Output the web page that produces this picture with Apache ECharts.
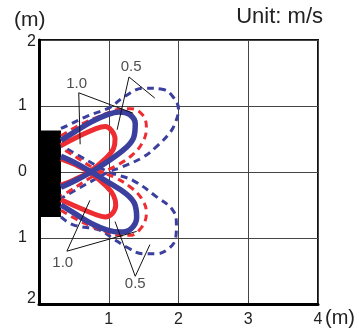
<!DOCTYPE html>
<html>
<head>
<meta charset="utf-8">
<script src="https://cdn.jsdelivr.net/npm/echarts@6/dist/echarts.min.js"></script>
<style>
html, body { margin: 0; padding: 0; background: #fff; }
#chart { width: 359px; height: 330px; }
</style>
</head>
<body>
<div id="chart"></div>
<script>
// axis ticks
var xTicks = [0, 1, 2, 3, 4]
var yTicks = [-2, -1, 0, 1, 2]

// outlet (black block), x and y extent in metres
var deviceX = [0, 0.315]
var deviceY = [-0.68, 0.63]

// 1.0 m/s contours
var blueUpper = [[0.315,0.48],[0.5,0.6],[0.75,0.76],[0.98,0.87],[1.15,0.91],[1.3,0.87],[1.38,0.73],[1.36,0.53],[1.25,0.37],[1.0,0.17],[0.75,0.0],[0.5,-0.14],[0.315,-0.23]]
var blueLower = [[0.315,-0.5],[0.5,-0.62],[0.75,-0.78],[0.98,-0.88],[1.17,-0.91],[1.32,-0.86],[1.4,-0.69],[1.37,-0.48],[1.25,-0.33],[1.0,-0.16],[0.75,0.0],[0.5,0.15],[0.315,0.24]]
var redUpper = [[0.315,0.4],[0.55,0.53],[0.8,0.65],[0.95,0.69],[1.04,0.63],[1.09,0.5],[1.07,0.36],[0.97,0.22],[0.72,0.0],[0.5,-0.12],[0.315,-0.2]]
var redLower = [[0.315,-0.42],[0.55,-0.53],[0.8,-0.64],[0.95,-0.68],[1.05,-0.63],[1.1,-0.5],[1.07,-0.36],[0.97,-0.22],[0.72,0.0],[0.5,0.12],[0.315,0.2]]

// 0.5 m/s contours
var blueDashUpper = [[0.315,0.66],[0.42,0.71],[0.7,0.85],[1.02,0.98],[1.22,1.14],[1.5,1.27],[1.78,1.25],[1.92,1.14],[2.0,0.95],[1.96,0.76],[1.88,0.6],[1.7,0.4],[1.5,0.23],[1.2,0.08],[1.0,0.0],[0.7,-0.17],[0.315,-0.4]]
var blueDashLower = [[0.315,-0.68],[0.49,-0.8],[0.87,-0.88],[1.05,-1.0],[1.26,-1.14],[1.5,-1.24],[1.68,-1.24],[1.86,-1.16],[1.96,-1.0],[1.97,-0.8],[1.92,-0.58],[1.69,-0.38],[1.35,-0.13],[1.0,0.0],[0.7,0.17],[0.315,0.4]]
var redDashUpper = [[0.315,0.55],[0.6,0.72],[0.95,0.88],[1.15,0.95],[1.32,0.96],[1.48,0.87],[1.54,0.68],[1.5,0.48],[1.35,0.27],[1.1,0.09],[0.8,-0.05],[0.42,-0.3],[0.315,-0.36]]
var redDashLower = [[0.315,-0.58],[0.6,-0.75],[0.95,-0.9],[1.15,-0.96],[1.3,-0.96],[1.47,-0.84],[1.54,-0.62],[1.47,-0.4],[1.3,-0.22],[1.1,-0.09],[0.8,0.05],[0.42,0.3],[0.315,0.36]]

// callouts: text, text position, leader lines (end, apex, end)
var calloutText = ['1.0', '0.5', '1.0', '0.5']
var calloutPos = [[0.54,1.34],[1.32,1.59],[0.34,-1.37],[1.38,-1.7]]
var leaders = [
	[[0.59,0.42],[0.57,1.2],[1.35,0.89]],
	[[1.12,0.64],[1.29,1.44],[1.66,1.12]],
	[[0.73,-0.43],[0.4,-1.2],[1.4,-0.9]],
	[[1.09,-0.75],[1.38,-1.58],[1.59,-1.1]]
]

var BLUE = '#3b3f9e'
var RED = '#ed2d32'
var FONT = '"Liberation Sans", Arial, sans-serif'

var chart = echarts.init(document.getElementById('chart'))

function curve(data, color, width, dashed, z) {
	return {
		type: 'line',
		data: data,
		smooth: 0.4,
		showSymbol: false,
		silent: true,
		z: z,
		lineStyle: {
			color: color,
			width: width,
			type: dashed ? [7, 5] : 'solid',
			cap: 'butt'
		}
	}
}

var series = [
	curve(blueDashUpper, BLUE, 3, true, 2),
	curve(blueDashLower, BLUE, 3, true, 2),
	curve(redDashUpper, RED, 3, true, 3),
	curve(redDashLower, RED, 3, true, 3),
	curve(redUpper, RED, 5, false, 4),
	curve(redLower, RED, 5, false, 4),
	curve(blueUpper, BLUE, 5.5, false, 5),
	curve(blueLower, BLUE, 5.5, false, 5)
]

for (var i = 0; i < leaders.length; i++) {
	series.push({
		type: 'line',
		data: leaders[i],
		showSymbol: false,
		silent: true,
		z: 6,
		lineStyle: { color: '#111', width: 1 }
	})
}

series.push({
	type: 'scatter',
	symbolSize: 0,
	silent: true,
	z: 7,
	data: calloutPos.map(function (p, i) { return { value: p, name: calloutText[i] } }),
	label: {
		show: true,
		position: 'inside',
		formatter: '{b}',
		color: '#222',
		fontSize: 15,
		fontFamily: FONT
	}
})

// the outlet block
series.push({
	type: 'line',
	data: [],
	silent: true,
	z: 8,
	markArea: {
		silent: true,
		itemStyle: { color: '#000', opacity: 1 },
		data: [[{ coord: [deviceX[0], deviceY[1]] }, { coord: [deviceX[1], deviceY[0]] }]]
	}
})

var labelFont = { color: '#222', fontSize: 16, fontFamily: FONT }

chart.setOption({
	animation: false,
	grid: {
		left: 39,
		right: 41,
		top: 40,
		bottom: 26,
		show: true,
		borderColor: '#111',
		borderWidth: 2
	},
	xAxis: {
		type: 'value',
		min: xTicks[0],
		max: xTicks[xTicks.length - 1],
		interval: 1,
		axisLine: { onZero: false, lineStyle: { color: '#000', width: 3 } },
		axisTick: { show: false },
		splitLine: { lineStyle: { color: '#444', width: 1 } },
		axisLabel: {
			margin: 8,
			color: '#222',
			fontSize: 16,
			fontFamily: FONT,
			formatter: function (v) { return v === 0 ? '' : String(v) }
		}
	},
	yAxis: {
		type: 'value',
		min: yTicks[0],
		max: yTicks[yTicks.length - 1],
		interval: 1,
		axisLine: { onZero: false, lineStyle: { color: '#000', width: 3 } },
		axisTick: { show: false },
		splitLine: { lineStyle: { color: '#444', width: 1 } },
		axisLabel: {
			margin: 12,
			align: 'right',
			color: '#222',
			fontSize: 16,
			fontFamily: FONT,
			formatter: function (v) {
				if (v === 2) return '{t|2}'
				if (v === -2) return '{b|2}'
				return '{n|' + Math.abs(v) + '}'
			},
			rich: {
				n: labelFont,
				t: Object.assign({ padding: [4, -9, 0, 0] }, labelFont),
				b: Object.assign({ padding: [0, -9, 10, 0] }, labelFont)
			}
		}
	},
	graphic: [
		{ type: 'text', left: 14, top: 10, style: { text: '(m)', fontSize: 21, fontFamily: FONT, fill: '#222' } },
		{ type: 'text', right: 36, top: 6, style: { text: 'Unit: m/s', fontSize: 22, fontFamily: FONT, fill: '#222' } },
		{ type: 'text', left: 325, top: 308, style: { text: '(m)', fontSize: 20, fontFamily: FONT, fill: '#222' } }
	],
	series: series
})
</script>
</body>
</html>
